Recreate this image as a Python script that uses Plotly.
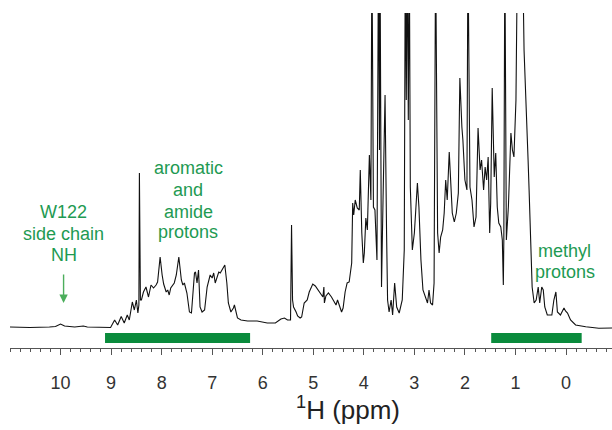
import plotly.graph_objects as go

# 1H NMR spectrum trace: chemical shift (ppm) and intensity (arb. units)
ppm = [11.01, 10.61, 10.22, 10.10, 10.00, 9.92, 9.72, 9.55, 9.47, 9.23, 9.01,
       8.93, 8.87, 8.80, 8.74, 8.68, 8.64, 8.58, 8.54, 8.50, 8.47, 8.45, 8.44, 8.42,
       8.40, 8.36, 8.31, 8.26, 8.21, 8.16, 8.11, 8.08, 8.03, 7.99, 7.96, 7.91, 7.88,
       7.85, 7.82, 7.75, 7.71, 7.66, 7.61, 7.58, 7.55, 7.50, 7.45, 7.41, 7.35, 7.33,
       7.30, 7.27, 7.24, 7.20, 7.15, 7.10, 7.07, 7.04, 7.00, 6.97, 6.94, 6.90, 6.87,
       6.84, 6.81, 6.77, 6.75, 6.71, 6.68, 6.63, 6.58, 6.56, 6.53, 6.50, 6.43, 6.30,
       6.11, 5.91, 5.75, 5.64, 5.57, 5.51, 5.45, 5.43, 5.41, 5.39, 5.34, 5.31, 5.26,
       5.23, 5.18, 5.12, 5.08, 5.01, 4.96, 4.91, 4.85, 4.81, 4.79, 4.78, 4.75, 4.70,
       4.64, 4.58, 4.55, 4.52, 4.48, 4.44, 4.41, 4.37, 4.33, 4.29, 4.24, 4.22, 4.20,
       4.17, 4.13, 4.09, 4.07, 4.04, 4.01, 3.99, 3.96, 3.93, 3.89, 3.86, 3.84, 3.81,
       3.78, 3.74, 3.71, 3.69, 3.68, 3.65, 3.62, 3.58, 3.55, 3.53, 3.50, 3.46, 3.43,
       3.39, 3.35, 3.30, 3.24, 3.20, 3.18, 3.16, 3.14, 3.12, 3.10, 3.08, 3.04, 3.00,
       2.97, 2.94, 2.91, 2.87, 2.83, 2.77, 2.74, 2.71, 2.68, 2.64, 2.61, 2.58, 2.54,
       2.51, 2.48, 2.44, 2.41, 2.38, 2.35, 2.31, 2.28, 2.25, 2.21, 2.17, 2.13, 2.10,
       2.06, 2.04, 2.00, 1.96, 1.94, 1.90, 1.86, 1.82, 1.78, 1.74, 1.70, 1.67, 1.63,
       1.60, 1.57, 1.54, 1.51, 1.49, 1.46, 1.42, 1.39, 1.36, 1.33, 1.29, 1.26, 1.24,
       1.23, 1.21, 1.18, 1.14, 1.09, 1.06, 1.03, 0.99, 0.96, 0.92, 0.86, 0.83, 0.80,
       0.78, 0.75, 0.73, 0.70, 0.67, 0.63, 0.59, 0.55, 0.52, 0.48, 0.45, 0.42, 0.37,
       0.28, 0.24, 0.20, 0.17, 0.11, 0.04, 0.01, -0.03, -0.09, -0.19, -0.39, -0.65,
       -0.91]
intensity = [0, -0.5, 0, 0.5, 3, 1, 0, 1, 0, -0.5, -0.5,
             7, 2, 10.5, 4, 12, 7, 25, 17, 27, 14, 22, 154, 27,
             27, 35, 40, 30, 42, 39, 42, 45, 70, 52, 43, 35, 37,
             32, 39, 44, 52, 70, 47, 42, 44, 34, 15, 14, 54, 55,
             44, 57, 20, 15, 17, 40, 47, 52, 49, 54, 44, 50, 55,
             54, 57, 60, 62, 44, 24, 15, 19, 22, 14, 9, 7, 6,
             6, 4, 4, 8, 9, 7, 7, 102, 27, 20, 15, 11, 9,
             10, 24, 27, 35, 43, 41, 37, 32, 30, 40, 24, 31, 34,
             30, 25, 22, 27, 20, 15, 19, 35, 44, 45, 64, 124, 112,
             127, 119, 117, 157, 94, 64, 74, 109, 97, 172, 127, 380, 120,
             117, 67, 380, 177, 380, 40, 127, 232, 94, 27, 15, 27, 12,
             44, 20, 14, 27, 77, 380, 227, 380, 207, 380, 140, 77, 94,
             114, 144, 120, 67, 37, 27, 24, 37, 24, 22, 44, 380, 94,
             74, 90, 97, 114, 147, 127, 175, 144, 114, 105, 114, 134, 249,
             200, 187, 147, 137, 380, 140, 127, 100, 110, 199, 157, 167, 137,
             160, 147, 170, 94, 124, 239, 150, 174, 120, 104, 100, 87, 42,
             87, 380, 87, 120, 194, 177, 170, 227, 380, 380, 380, 277, 227,
             210, 167, 137, 94, 40, 24, 27, 40, 24, 40, 37, 20, 12,
             12, 27, 35, 15, 12, 19, 16, 14, 7, 2, 0.3, -1.3,
             -1]

# Region bars (ppm start, ppm end) and labels
bar_ranges = [(9.12, 6.25), (1.48, -0.31)]
labels = [
    (9.94, [(115, "W122"), (93, "side chain"), (72, "NH")]),
    (7.47, [(159, "aromatic"), (137, "and"), (115, "amide"), (95, "protons")]),
    (0.02, [(76, "methyl"), (55, "protons")]),
]
arrow_ppm, arrow_from, arrow_to = 9.94, 54, 24
x_ticks = [10, 9, 8, 7, 6, 5, 4, 3, 2, 1, 0]

TEXT_GREEN = "#1e9a52"
BAR_GREEN = "#0a8b3c"
FONT = "Liberation Sans, Arial, sans-serif"

fig = go.Figure()
fig.add_trace(go.Scatter(x=ppm, y=intensity, mode="lines",
                         line=dict(color="#111111", width=1.1),
                         hoverinfo="skip", showlegend=False))

for x0, x1 in bar_ranges:
    fig.add_shape(type="rect", x0=x0, x1=x1, y0=-16, y1=-6, xref="x", yref="y",
                  fillcolor=BAR_GREEN, line=dict(width=0), layer="above")

for xc, lines in labels:
    for yy, txt in lines:
        fig.add_annotation(x=xc, y=yy, text=txt, showarrow=False, xref="x", yref="y",
                           font=dict(family=FONT, size=18, color=TEXT_GREEN),
                           xanchor="center", yanchor="middle")

fig.add_annotation(x=arrow_ppm, y=arrow_to, ax=arrow_ppm, ay=arrow_from,
                   xref="x", yref="y", axref="x", ayref="y", text="",
                   showarrow=True, arrowhead=2, arrowsize=1.2, arrowwidth=1.4,
                   arrowcolor="#4cae5c")

fig.add_annotation(x=0.561, y=-0.18, xref="paper", yref="paper",
                   text="<sup>1</sup>H (ppm)", showarrow=False,
                   font=dict(family=FONT, size=26, color="#222222"),
                   xanchor="center", yanchor="middle")

fig.update_layout(
    width=612, height=430,
    margin=dict(l=10, r=0, t=13, b=82),
    paper_bgcolor="white", plot_bgcolor="white",
    xaxis=dict(range=[11.0, -0.91], showgrid=False, zeroline=False,
               showline=True, linecolor="#555555", linewidth=1,
               tickmode="array", tickvals=x_ticks, ticktext=[str(t) for t in x_ticks],
               ticks="outside", ticklen=6, tickcolor="#555555", tickwidth=1,
               ticklabelstandoff=12,
               minor=dict(ticks="outside", ticklen=3, tickcolor="#555555", dtick=0.2,
                          tick0=0, showgrid=False),
               tickfont=dict(family=FONT, size=18, color="#333333")),
    yaxis=dict(range=[-21, 314], visible=False),
)

fig.write_html("out.html", config={"displayModeBar": False},
               post_script="document.body.style.margin='0';document.body.style.padding='0';")
